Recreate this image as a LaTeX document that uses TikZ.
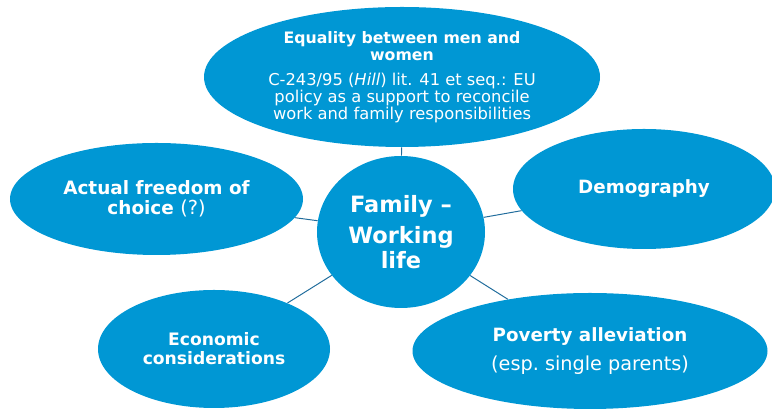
\documentclass[tikz,border=0pt]{standalone}
\usepackage{fontspec}
\setmainfont{DejaVu Sans}
\usetikzlibrary{shapes.geometric}
\definecolor{bubblefill}{RGB}{0,151,212}
\definecolor{linkline}{RGB}{32,108,156}
\newcommand{\headfont}{\fontsize{11.2}{12.8}\selectfont\bfseries}
\newcommand{\bodyfont}{\fontsize{11.6}{11.8}\selectfont}
\newcommand{\plainbig}{\fontsize{13.7}{14.2}\selectfont\mdseries}

\begin{document}
\begin{tikzpicture}[
    bubble/.style={ellipse, fill=bubblefill, text=white, inner sep=0pt, align=center},
    link/.style={draw=linkline, line width=0.7pt}]
    \useasboundingbox (0, 0) rectangle (19.3, 10.225);

    \node (fam) [bubble, minimum width=4.2cm, minimum height=3.8cm,
        font=\fontsize{16}{18}\selectfont\bfseries] at (10.025, 4.425)
        {Family --\\[4pt] Working\\life};

    \node (equal) [bubble, minimum width=9.9cm, minimum height=3.5cm] at (10.05, 8.3)
        {\headfont Equality between men and\\\headfont women\\[6pt]
         \bodyfont C-243/95 (\textit{Hill}) lit. 41 et seq.: EU\\
         \bodyfont policy as a support to reconcile\\
         \bodyfont work and family responsibilities};
    \node (choice) [bubble, minimum width=7.325cm, minimum height=2.8cm,
        font=\fontsize{13.1}{14.2}\selectfont\bfseries] at (3.9125, 5.25)
        {Actual freedom of\\choice {\plainbig(?)}};
    \node (demo) [bubble, minimum width=6.55cm, minimum height=3cm,
        font=\fontsize{13}{14.2}\selectfont\bfseries] at (16.1, 5.5)
        {Demography};
    \node (econ) [bubble, minimum width=5.8cm, minimum height=2.95cm,
        font=\fontsize{12.2}{13.5}\selectfont\bfseries] at (5.35, 1.5)
        {Economic\\considerations};
    \node (pov) [bubble, minimum width=8.875cm, minimum height=2.9cm,
        font=\fontsize{13}{14.2}\selectfont\bfseries] at (14.75, 1.45)
        {Poverty alleviation\\[6pt]\plainbig(esp.\ single parents)};

    % spokes from the centre
    \draw[link] (fam) -- (equal);
    \draw[link] (fam) -- (choice);
    \draw[link] (fam) -- (demo);
    \draw[link] (fam) -- (econ);
    \draw[link] (fam) -- (pov);
\end{tikzpicture}
\end{document}
